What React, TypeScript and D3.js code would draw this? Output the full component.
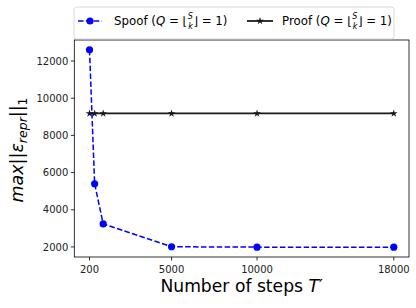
import React from 'react';
import * as d3 from 'd3';

// steps T'
const steps = [200, 500, 1000, 5000, 10000, 18000];
// max ||eps_repr||_1
const spoofValues = [12600, 5400, 3240, 2010, 1990, 1990];
const proofValues = [9180, 9180, 9180, 9180, 9180, 9180];
const xTicks = [200, 5000, 10000, 18000];
const yTicks = [2000, 4000, 6000, 8000, 10000, 12000];

const W = 416;
const H = 308;
const margin = { left: 74.3, right: 409, top: 40, bottom: 257 };
const font = 'DejaVu Sans, sans-serif';

const App = () => {
  // matplotlib style 5% padding around data
  const xPad = (d3.max(steps)! - d3.min(steps)!) * 0.05;
  const xScale = d3.scaleLinear()
    .domain([d3.min(steps)! - xPad, d3.max(steps)! + xPad])
    .range([margin.left, margin.right]);

  const yMin = d3.min(spoofValues)!;
  const yMax = d3.max(spoofValues)!;
  const yPad = (yMax - yMin) * 0.05;
  const yScale = d3.scaleLinear()
    .domain([yMin - yPad, yMax + yPad])
    .range([margin.bottom, margin.top]);

  const line = d3.line<number>()
    .x((_, i) => xScale(steps[i]))
    .y(d => yScale(d));

  const star = d3.symbol().type(d3.symbolStar).size(18)()!;

  // the legend label with the floor fraction
  const mathLabel = (x: number, y: number, name: string) => (
    <text x={x} y={y} fontSize={11.8} fontFamily={font} fill="#000">
      <tspan>{name} (</tspan>
      <tspan fontStyle="italic">Q</tspan>
      <tspan> = ⌊</tspan>
      <tspan fontSize={8} fontStyle="italic" dx={0.5} dy={-6}>S</tspan>
      <tspan fontSize={8} fontStyle="italic" dx={-4.6} dy={10}>k</tspan>
      <tspan dx={0.5} dy={-4}>⌋ = 1)</tspan>
    </text>
  );

  return (
    <svg width={W} height={H} style={{ position: 'absolute', left: 0, top: 0 }}>
      <rect width={W} height={H} fill="#fff" />

      {/* proof line */}
      <path d={line(proofValues)!} fill="none" stroke="#1a1a1a" strokeWidth={1.8} />
      {proofValues.map((v, i) => (
        <path key={'p' + i} d={star} transform={`translate(${xScale(steps[i])},${yScale(v)})`} fill="#1a1a1a" />
      ))}

      {/* spoof line */}
      <path d={line(spoofValues)!} fill="none" stroke="#0000ff" strokeWidth={1.5} strokeDasharray="5.5,2.4" />
      {spoofValues.map((v, i) => (
        <circle key={'s' + i} cx={xScale(steps[i])} cy={yScale(v)} r={3.6} fill="#0000ff" />
      ))}

      {/* axes box */}
      <rect x={margin.left} y={margin.top} width={margin.right - margin.left} height={margin.bottom - margin.top}
        fill="none" stroke="#000" strokeWidth={0.8} />

      {/* x ticks */}
      {xTicks.map(t => (
        <g key={'x' + t}>
          <line x1={xScale(t)} x2={xScale(t)} y1={margin.bottom} y2={margin.bottom + 3.5} stroke="#000" strokeWidth={0.8} />
          <text x={xScale(t)} y={margin.bottom + 16} fontSize={10} fontFamily={font} textAnchor="middle" fill="#222">{t}</text>
        </g>
      ))}

      {/* y ticks */}
      {yTicks.map(t => (
        <g key={'y' + t}>
          <line x1={margin.left - 3.5} x2={margin.left} y1={yScale(t)} y2={yScale(t)} stroke="#000" strokeWidth={0.8} />
          <text x={margin.left - 6} y={yScale(t) + 3.6} fontSize={10} fontFamily={font} textAnchor="end" fill="#222">{t}</text>
        </g>
      ))}

      {/* axis labels */}
      <text x={(margin.left + margin.right) / 2} y={292} fontSize={17.2} fontFamily={font} textAnchor="middle" fill="#000">
        Number of steps <tspan fontStyle="italic">T</tspan><tspan>′</tspan>
      </text>
      <text transform="translate(23,150) rotate(-90)" fontSize={17.5} fontFamily={font} textAnchor="middle" fill="#000">
        <tspan fontStyle="italic">max</tspan>
        <tspan>||</tspan>
        <tspan fontStyle="italic">ε</tspan>
        <tspan fontStyle="italic" fontSize={12.5} dy={4}>repr</tspan>
        <tspan dy={-4}>||</tspan>
        <tspan fontSize={12.5} dy={4}>1</tspan>
      </text>

      {/* legend */}
      <rect x={74} y={7} width={320} height={32} rx={2.5} fill="#fff" stroke="#ccc" strokeWidth={0.8} />
      <line x1={78} x2={102} y1={21} y2={21} stroke="#0000ff" strokeWidth={1.5} strokeDasharray="5.5,2.4" />
      <circle cx={90} cy={21} r={3.6} fill="#0000ff" />
      {mathLabel(114, 25, 'Spoof')}
      <line x1={247} x2={273} y1={21} y2={21} stroke="#1a1a1a" strokeWidth={1.8} />
      <path d={star} transform="translate(260,21)" fill="#1a1a1a" />
      {mathLabel(282, 25, 'Proof')}
    </svg>
  );
};

export default App;
